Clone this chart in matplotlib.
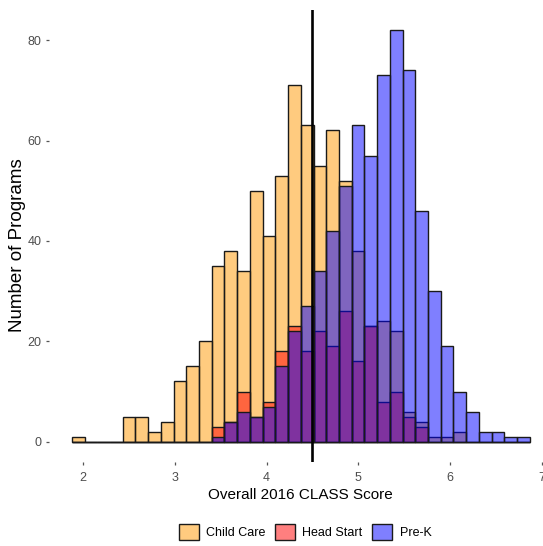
import matplotlib
matplotlib.use("Agg")
import matplotlib.pyplot as plt
from matplotlib.colors import to_rgba
from matplotlib.patches import Patch
import numpy as np

plt.rcParams['font.family'] = ['Liberation Sans', 'DejaVu Sans']

# histogram bins (36 bins, same for all three program types)
bin_start = 1.876
bin_width = 0.1387

child_care = [1, 0, 0, 0, 5, 5, 2, 4, 12, 15, 20, 35, 38, 34, 50, 41, 53, 71,
              63, 55, 62, 52, 38, 23, 24, 22, 6, 4, 1, 1, 2, 0, 0, 0, 0, 0]
head_start = [0, 0, 0, 0, 0, 0, 0, 0, 0, 0, 0, 3, 4, 10, 5, 8, 18, 23,
              18, 22, 19, 26, 16, 23, 8, 10, 5, 3, 0, 0, 0, 0, 0, 0, 0, 0]
pre_k = [0, 0, 0, 0, 0, 0, 0, 0, 0, 0, 0, 1, 4, 6, 5, 7, 15, 22,
         27, 34, 42, 51, 63, 57, 73, 82, 74, 46, 30, 19, 10, 6, 2, 2, 1, 1]

programs = ['Child Care', 'Head Start', 'Pre-K']
fills = ['#FF9900', '#FF0000', '#0000FF']
cutoff = 4.5

x_ticks = [2, 3, 4, 5, 6, 7]
y_ticks = [0, 20, 40, 60, 80]

left_edges = bin_start + bin_width * np.arange(len(child_care))

fig = plt.figure(figsize=(5.43, 5.46), dpi=100)
ax = fig.add_axes([0.0902, 0.1533, 0.9273, 0.8293])

for counts, col in zip([child_care, head_start, pre_k], fills):
    ax.bar(left_edges, counts, width=bin_width, align='edge',
           facecolor=to_rgba(col, 0.5), edgecolor='#1a1a1a', linewidth=1.0)

ax.axvline(cutoff, color='black', lw=1.9)

ax.set_xlim(1.626, 7.118)
ax.set_ylim(-4.1, 86.1)
for s in ax.spines.values():
    s.set_visible(False)

ax.set_xticks(x_ticks)
ax.set_yticks(y_ticks)
ax.tick_params(axis='both', colors='#555555', labelcolor='#4D4D4D',
               labelsize=9, length=2.2, width=0.9)
ax.tick_params(axis='x', pad=5)
ax.tick_params(axis='y', pad=3)

ax.set_xlabel('Overall 2016 CLASS Score', fontsize=11, labelpad=3)
fig.text(18 / 543, 1 - 245 / 546, 'Number of Programs', rotation=90,
         ha='center', va='center', fontsize=13.5)

handles = [Patch(facecolor=to_rgba(c, 0.5), edgecolor='#1a1a1a', linewidth=1.0, label=p)
           for p, c in zip(programs, fills)]
fig.legend(handles=handles, loc='center', bbox_to_anchor=(305 / 543, 1 - 532 / 546),
           ncol=3, frameon=False, fontsize=9, handlelength=1.6, handleheight=1.6,
           handletextpad=0.6, columnspacing=0.75, borderaxespad=0)

fig.savefig('out.png', dpi=100)
